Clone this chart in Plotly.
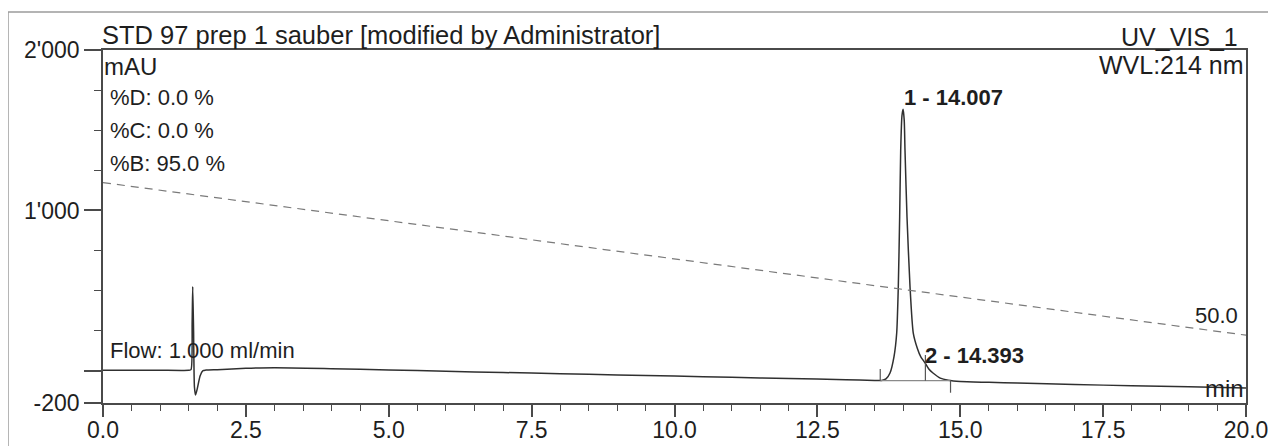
import plotly.graph_objects as go

# ---------------- data ----------------
time_min = [0.0, 0.5, 1.0, 1.5, 1.54, 1.56, 1.57, 1.585, 1.60, 1.62, 1.65, 1.70, 1.75,
            1.8, 2.0, 2.5, 3.0, 4.0, 5.0, 6.0, 7.0, 8.0, 9.0, 10.0, 11.0, 12.0, 13.0,
            13.5, 13.625, 13.70, 13.771, 13.841, 13.888, 13.916, 13.940, 13.958, 13.98,
            14.0, 14.02, 14.033, 14.068, 14.121, 14.178, 14.25, 14.308, 14.393, 14.45,
            14.523, 14.65, 14.79, 15.0, 15.5, 16.0, 17.0, 18.0, 19.0, 20.0]
signal_mAU = [4, 4, 4, 4, 8, 300, 525, 250, -100, -150, -110, -30, 2,
              5, 8, 16, 20, 14, 6, -2, -10, -17, -25, -32, -40, -47, -55,
              -59, -60, -50, -13, 89, 236, 525, 961, 1377, 1590,
              1630, 1560, 1377, 961, 525, 236, 140, 89, 45, 12,
              -13, -45, -58, -66, -71, -76, -85, -92, -99, -106]

gradient_time = [0.0, 20.0]
gradient_B = [95.0, 50.0]

peak_names = ["1 - 14.007", "2 - 14.393"]

# integration delimiters: time, low, high (mAU)
delim_time = [13.6, 14.39, 14.83]
delim_low = [-61, -61, -136]
delim_high = [12, 99, -57]
int_base_time = [13.6, 14.83]
int_base_val = [-61, -61]

x_tick_vals = [0.0, 2.5, 5.0, 7.5, 10.0, 12.5, 15.0, 17.5, 20.0]
x_tick_text = ["0.0", "2.5", "5.0", "7.5", "10.0", "12.5", "15.0", "17.5", "20.0"]
x_minor_vals = [0.5, 1.0, 1.5, 2.0, 3.0, 3.5, 4.0, 4.5, 5.5, 6.0, 6.5, 7.0, 8.0, 8.5,
                9.0, 9.5, 10.5, 11.0, 11.5, 12.0, 13.0, 13.5, 14.0, 14.5, 15.5, 16.0,
                16.5, 17.0, 18.0, 18.5, 19.0, 19.5]
y_tick_vals = [-200, 0, 1000, 2000]
y_tick_text = ["-200", "", "1'000", "2'000"]
y_minor_vals = [250, 500, 750, 1250, 1500, 1750]

# ---------------- layout geometry (page pixels) ----------------
W, H = 1276, 446
OFF = 8                      # page body margin offset of the plot div
L, R, T, B = 103, 1246, 50, 403
FONT = "Liberation Sans, Arial, sans-serif"
AX = "#4a4a4a"
TXT = "#1e1e1e"


def px(x):
    return (x - L) / (R - L)


def py(y):
    return (B - y) / (B - T)


fig = go.Figure()

fig.add_trace(go.Scatter(x=gradient_time, y=gradient_B, yaxis="y2", mode="lines",
                         line=dict(color="#7a7a7a", width=1.2, dash="8px,6px"),
                         hoverinfo="skip", showlegend=False))

fig.add_trace(go.Scatter(x=time_min, y=signal_mAU, mode="lines",
                         line=dict(color="#303030", width=1.5, shape="spline", smoothing=0.6),
                         showlegend=False))

fig.add_trace(go.Scatter(x=int_base_time, y=int_base_val, mode="lines",
                         line=dict(color="#8a8a8a", width=1.2), showlegend=False,
                         hoverinfo="skip"))
for t, lo, hi in zip(delim_time, delim_low, delim_high):
    fig.add_trace(go.Scatter(x=[t, t], y=[lo, hi], mode="lines",
                             line=dict(color="#555555", width=1.2), showlegend=False,
                             hoverinfo="skip"))

annotations = []


def note(text, x, y, xanchor, size, bold=False):
    annotations.append(dict(text=("<b>%s</b>" % text) if bold else text, x=px(x), y=py(y),
                            xref="paper", yref="paper", xanchor=xanchor, yanchor="middle",
                            showarrow=False, font=dict(family=FONT, size=size, color=TXT),
                            borderpad=0))


note("STD 97 prep 1 sauber [modified by Administrator]", 101, 35, "left", 25.5)
note("UV_VIS_1", 1239, 37, "right", 25)
note("WVL:214 nm", 1245, 65, "right", 25)
note("mAU", 103, 66, "left", 24)
note("%D: 0.0 %", 109, 97, "left", 22)
note("%C: 0.0 %", 109, 130, "left", 22)
note("%B: 95.0 %", 109, 163, "left", 22)
note("Flow: 1.000 ml/min", 109, 350, "left", 22)
note("50.0", 1239, 315, "right", 22)
note("min", 1245, 388, "right", 24)
note(peak_names[0], 903, 97, "left", 22, bold=True)
note(peak_names[1], 924, 355, "left", 22, bold=True)

shapes = [dict(type="path", xref="paper", yref="paper",
               path="M %f %f L %f %f L %f %f" % (px(8), py(470), px(8), py(12), px(1300), py(12)),
               line=dict(color="#9c9c9c", width=1.5))]

fig.update_layout(
    width=W, height=H,
    margin=dict(l=L - OFF, r=W - (R - OFF), t=T - OFF, b=H - (B - OFF), pad=0,
                autoexpand=False),
    paper_bgcolor="white", plot_bgcolor="white",
    font=dict(family=FONT, color=TXT),
    showlegend=False,
    annotations=annotations,
    shapes=shapes,
    xaxis=dict(range=[0, 20], showgrid=False, zeroline=False, automargin=False,
               showline=True, mirror=True, linecolor=AX, linewidth=1.5,
               ticks="outside", ticklen=12, tickwidth=1.5, tickcolor=AX,
               tickmode="array", tickvals=x_tick_vals, ticktext=x_tick_text,
               ticklabelstandoff=-6,
               tickfont=dict(family=FONT, size=23, color=TXT),
               minor=dict(ticks="outside", ticklen=6, tickwidth=1.2, tickcolor=AX,
                          tickmode="array", tickvals=x_minor_vals, showgrid=False)),
    yaxis=dict(range=[-200, 2000], showgrid=False, zeroline=False, automargin=False,
               showline=True, mirror=True, linecolor=AX, linewidth=1.5,
               ticks="outside", ticklen=17, tickwidth=1.5, tickcolor=AX,
               tickmode="array", tickvals=y_tick_vals, ticktext=y_tick_text,
               tickfont=dict(family=FONT, size=23, color=TXT),
               minor=dict(ticks="outside", ticklen=7, tickwidth=1.2, tickcolor=AX,
                          tickmode="array", tickvals=y_minor_vals, showgrid=False)),
    yaxis2=dict(range=[30, 134.1], overlaying="y", visible=False),
)

fig.write_html("out.html")
